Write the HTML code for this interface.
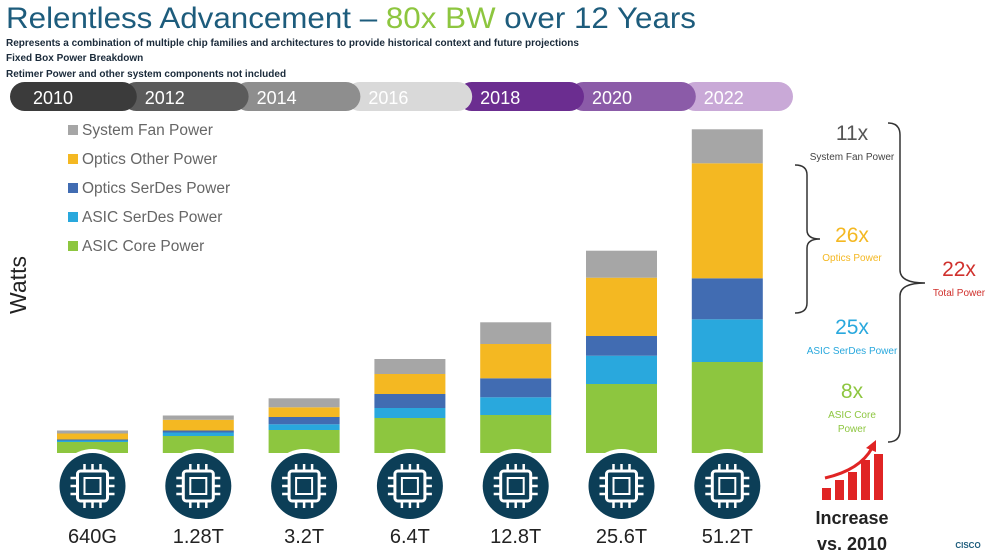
<!DOCTYPE html>
<html><head><meta charset="utf-8"><style>
body{margin:0;width:991px;height:552px;overflow:hidden;background:#fff;font-family:"Liberation Sans","Noto Sans CJK SC",sans-serif;}
svg{position:absolute;left:0;top:0}
</style></head><body>
<svg width="991" height="552" xmlns="http://www.w3.org/2000/svg" id="chart">
<text x="6" y="28" font-size="30" textLength="690" lengthAdjust="spacingAndGlyphs" fill="#1d5c7c">Relentless Advancement – <tspan fill="#8dc63f">80x BW</tspan> over 12 Years</text>
<g font-size="10" font-weight="bold" fill="#1a2a3a">
<text x="6" y="46">Represents a combination of multiple chip families and architectures to provide historical context and future projections</text>
<text x="6" y="61">Fixed Box Power Breakdown</text>
<text x="6" y="77">Retimer Power and other system components not included</text>
</g>
<g id="timeline"></g>
<g id="legend"></g>
<text transform="translate(26,285) rotate(-90)" text-anchor="middle" font-size="23" fill="#222">Watts</text>
<g id="bars"></g>
<g id="chips"></g>
<g fill="none" stroke="#333" stroke-width="1.5">
<path d="M888,123 Q900,123 900,135 L900,270 Q900,283 925,283 Q900,283 900,296 L900,430 Q900,442 888,442"/>
<path d="M795,165 Q807,165 807,175 L807,230 Q807,239 820,239 Q807,239 807,248 L807,303 Q807,313 795,313"/>
</g>
<g text-anchor="middle">
<text x="852" y="140" font-size="21" fill="#555">11x</text>
<text x="852" y="160" font-size="10" fill="#444">System Fan Power</text>
<text x="852" y="242" font-size="21" fill="#f4b822">26x</text>
<text x="852" y="261" font-size="10" fill="#f4b822">Optics Power</text>
<text x="852" y="334" font-size="21" fill="#29a8dd">25x</text>
<text x="852" y="354" font-size="10" fill="#29a8dd">ASIC SerDes Power</text>
<text x="852" y="398" font-size="21" fill="#8dc63f">8x</text>
<text x="852" y="418" font-size="10" fill="#8dc63f">ASIC Core</text>
<text x="852" y="432" font-size="10" fill="#8dc63f">Power</text>
<text x="959" y="276" font-size="21" fill="#d0312d">22x</text>
<text x="959" y="296" font-size="10" fill="#d0312d">Total Power</text>
</g>
<g fill="#e02424">
<rect x="822" y="488" width="9" height="12"/><rect x="835" y="480" width="9" height="20"/><rect x="848" y="472" width="9" height="28"/><rect x="861" y="460" width="9" height="40"/><rect x="874" y="454" width="9" height="46"/>
<path d="M825,478 Q860,470 872,448" fill="none" stroke="#e02424" stroke-width="3"/><path d="M866,448 L876,440 L876,452 Z"/>
</g>
<text x="852" y="524" text-anchor="middle" font-size="18" font-weight="bold" fill="#222">Increase</text>
<text x="852" y="550" text-anchor="middle" font-size="18" font-weight="bold" fill="#222">vs. 2010</text>
<text x="968" y="548" text-anchor="middle" font-size="8" font-weight="bold" fill="#1d5c7c">CISCO</text>
</svg>
<script>
const years=["2010","2012","2014","2016","2018","2020","2022"];
const bandwidth=["640G","1.28T","3.2T","6.4T","12.8T","25.6T","51.2T"];
const asicCore=[110,170,230,350,380,690,910];
const asicSerdes=[15,35,57,100,177,283,427];
const opticsSerdes=[10,20,73,140,190,197,410];
const opticsOther=[60,107,97,200,343,583,1150];
const systemFan=[30,43,90,150,217,270,340];
const seriesNames=["System Fan Power","Optics Other Power","Optics SerDes Power","ASIC SerDes Power","ASIC Core Power"];
const NS="http://www.w3.org/2000/svg";
const colors=["#a6a6a6","#f4b822","#416cb2","#29a8dd","#8dc63f"];
const base=453, scale=0.1, x0=57, step=105.8, bw=71;
function yOf(v){return base-v*scale;}
function xOf(i){return x0+i*step;}
function mk(t,a,p){const e=document.createElementNS(NS,t);for(const k in a)e.setAttribute(k,a[k]);p.appendChild(e);return e;}
const tlC=["#3b3b3b","#5b5b5b","#8e8e8e","#d9d9d9","#6b2d90","#8b5ba8","#c9a9d7"];
const tl=document.getElementById('timeline');
for(let i=years.length-1;i>=0;i--){
 const sx=10+i*111.8, ex=(i==years.length-1)?793:sx+111.8+15;
 const r=mk('rect',{x:sx,y:82,width:ex-sx,height:29,rx:14.5,fill:tlC[i]},tl);
 
 
 const t=mk('text',{x:sx+43,y:104,'text-anchor':'middle','font-size':18,fill:'#fff'},tl);
 t.textContent=years[i];
 
 
}
const lg=document.getElementById('legend');
seriesNames.forEach((n,i)=>{
 const y=130+i*29;
 const s=mk('rect',{x:68,y:y-5,width:10,height:10,fill:colors[i]},lg);
 
 
 const t=mk('text',{x:82,y:y+5,'font-size':15.5,fill:'#666'},lg);
 t.textContent=n;
 
 
});
const stack=[asicCore,asicSerdes,opticsSerdes,opticsOther,systemFan];
const stackColors=["#8dc63f","#29a8dd","#416cb2","#f4b822","#a6a6a6"];
const bg=document.getElementById('bars');
years.forEach((y,i)=>{
 let cum=0;
 stack.forEach((s,k)=>{
  const y1=yOf(cum), y2=yOf(cum+s[i]); cum+=s[i];
  const r=mk('rect',{x:xOf(i),y:y2,width:bw,height:y1-y2,fill:stackColors[k]},bg);
  
  
 });
});
const cg=document.getElementById('chips');
bandwidth.forEach((b,i)=>{
 const cx=xOf(i)+bw/2, cy=486;
 const g=mk('g',{},cg);
 
 
 mk('circle',{cx:cx,cy:cy,r:37,fill:'#fff'},g);
 mk('circle',{cx:cx,cy:cy,r:33,fill:'#0c3e57'},g);
 mk('rect',{x:cx-15,y:cy-15,width:30,height:30,rx:3,fill:'none',stroke:'#fff','stroke-width':3},g);
 mk('rect',{x:cx-8,y:cy-8,width:16,height:16,fill:'none',stroke:'#fff','stroke-width':2},g);
 for(let j=-1;j<=1;j++){
  const o=j*8;
  mk('line',{x1:cx+o,y1:cy-22,x2:cx+o,y2:cy-15,stroke:'#fff','stroke-width':2.5},g);
  mk('line',{x1:cx+o,y1:cy+15,x2:cx+o,y2:cy+22,stroke:'#fff','stroke-width':2.5},g);
  mk('line',{x1:cx-22,y1:cy+o,x2:cx-15,y2:cy+o,stroke:'#fff','stroke-width':2.5},g);
  mk('line',{x1:cx+15,y1:cy+o,x2:cx+22,y2:cy+o,stroke:'#fff','stroke-width':2.5},g);
 }
 const t=mk('text',{x:cx,y:543,'text-anchor':'middle','font-size':20,fill:'#222'},cg);
 t.textContent=b;
 
 
});
</script>
</body></html>
